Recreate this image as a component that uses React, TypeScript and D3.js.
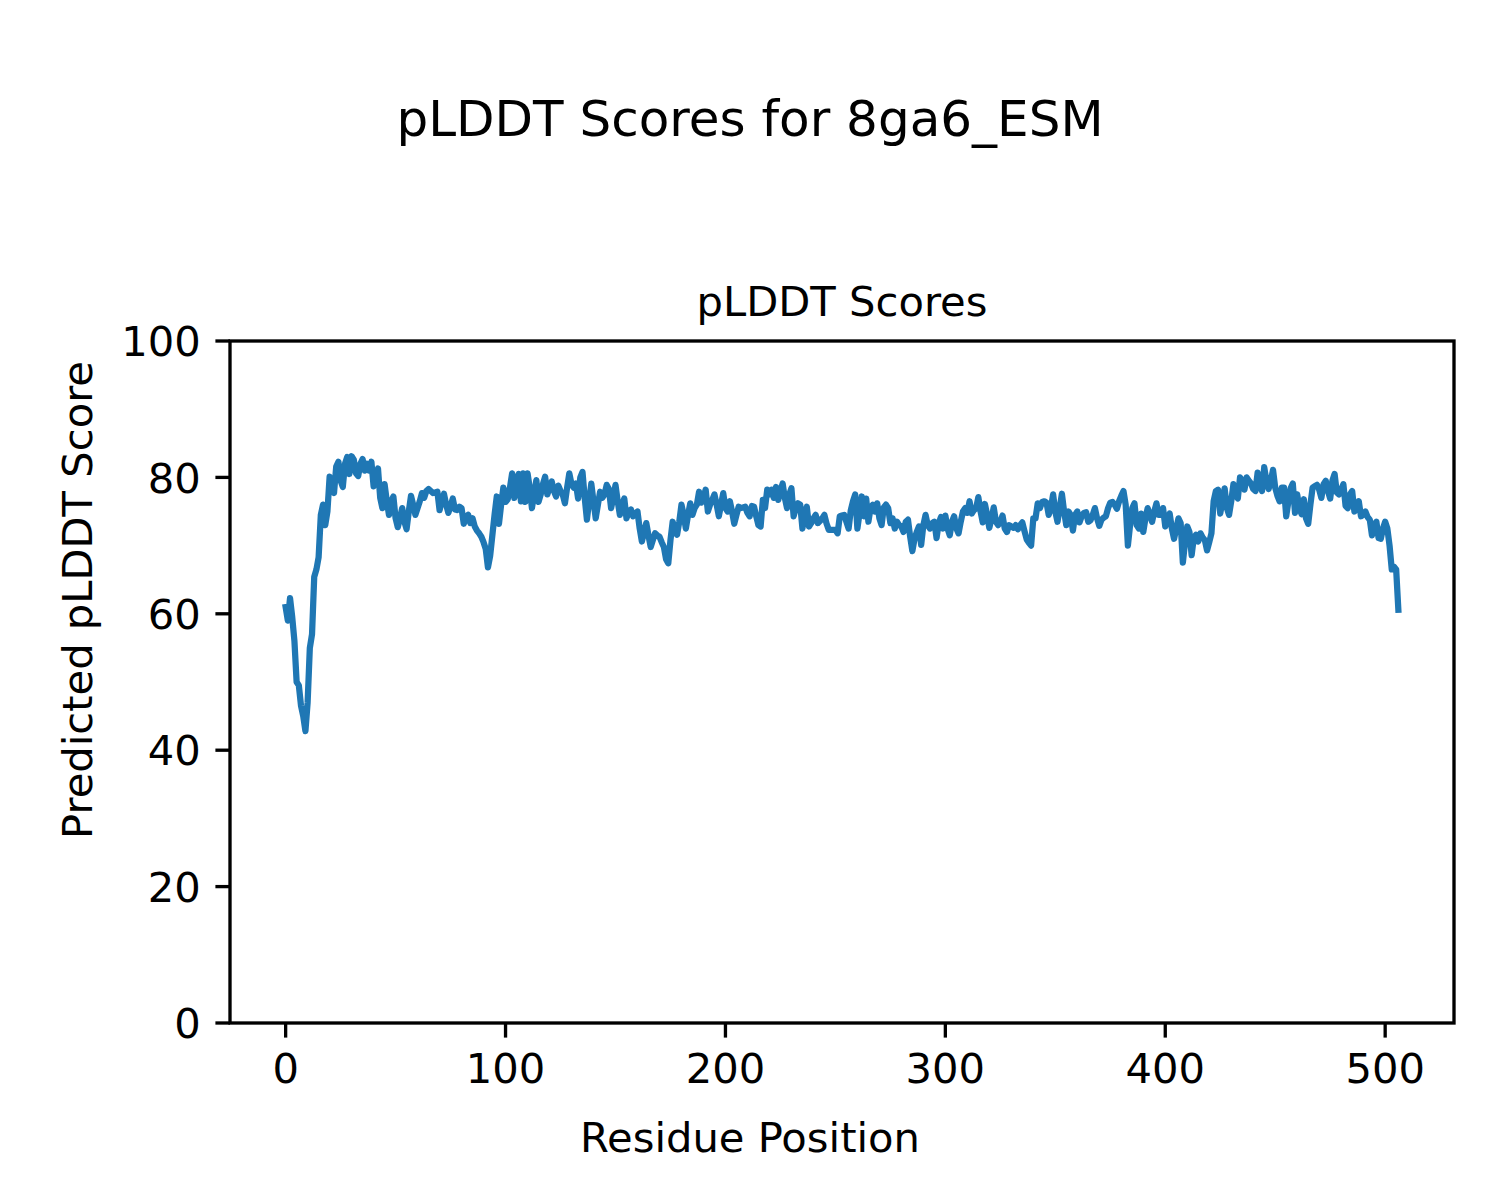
import React from "react";
import * as d3 from "d3";

const plddt: number[] = [
  61, 59, 62.3, 59.5, 56, 50, 49.5, 46.5, 45, 42.8, 47, 55, 57, 65.4, 66.5, 68.3, 74.5, 76, 73, 75,
  80.1, 79, 77.7, 81.6, 82.3, 79.5, 78.6, 82, 83, 80.5, 83.1, 82.6, 80.6, 80.2, 82, 82.7, 81, 82, 81,
  82.3, 78.7, 80, 81.3, 77, 75.5, 79, 76.5, 74.5, 76.5, 77.2, 74, 72.7, 74, 75.5, 73.5, 72.4, 75, 77.3, 76,
  74.5, 75.5, 76.5, 77.7, 77, 78, 78.3, 78, 77.7, 77.8, 77.9, 75.2, 76.5, 77.6, 76, 74.8, 75.8, 76.9, 75.3,
  75.2, 75.7, 75.5, 73.2,
  74.2, 74.5, 73.3, 74.0, 72.8, 72.2, 71.8, 71.3, 70.5, 69.5, 66.8, 68.5, 71.5, 74.5, 77.2, 73.2, 76, 78.5,
  76.4, 76.8, 78.5, 80.6, 77, 79.5, 80.5, 76.5, 80.6, 76.4, 80.6, 78.5, 75.5, 77.5, 79.6, 76.4, 77.5, 79,
  80.1, 77.5, 78.5, 79.4, 78, 77.2, 78.8, 78,
  77.5, 76.2, 78.5, 80.6, 79, 78.5, 79.1, 76.9, 80, 80.8, 77, 73.8, 76.5, 79.1, 76.5, 74.0, 76, 77.9, 77,
  77.5, 78.9, 78.3, 75.5, 77, 78.9, 76.5, 74.5, 76, 76.9, 74, 75, 75.3, 74.3, 74.7, 75, 72.5, 70.6, 72,
  73.3, 71.5, 69.8, 70.8, 71.8,
  71.5, 71.3, 70.5, 69.8, 68, 67.4, 70.8, 73.5, 72, 71.6, 73.5, 76, 74.5, 72.5, 74.5, 76.2, 74.5, 75.5, 76,
  77.9, 76.3, 77, 78.2, 75, 76, 76.7, 77.5, 76, 74.3, 76, 77.7, 75.5, 75.0, 76.5, 75, 73.2, 74.5, 75.7,
  75.5, 75.6, 75.7, 74.8, 74.3,
  75.8, 75.7, 74.3, 73, 72.8, 76.7, 75.5, 78.2, 77.5, 78.2, 77, 78.6, 76.7, 78, 79.1, 77, 75.5, 77.5, 78.4,
  74.3, 75.5, 76.2, 76, 72.5, 74.5, 75.7, 72.8, 73.3, 74, 74.5, 73.3, 73.6, 74, 74.5, 73.2, 72.3, 72.3,
  72.3, 72.3, 71.8, 74.3, 74.4, 74.5,
  73.5, 72.5, 75.2, 76.5, 77.5, 72.5, 74.8, 77.2, 74.3, 76.9, 73.5, 75.5, 76, 75, 76.2, 74, 73, 75.6, 76,
  75.5, 73.3, 74, 72.5, 73.5, 73, 72.8, 72, 73.5, 73.8, 71.3, 69.2, 71, 72, 72.8, 70.1, 73, 74.5, 73, 72.5,
  73.3, 73.5, 71.1, 73.3,
  74.2, 72.5, 74.4, 72.5, 71.5, 73.5, 74.3, 72.5, 71.8, 73.5, 75, 75.5, 74.8, 76.5, 74.7, 75.2, 75.5, 77.1,
  75, 73.4, 76.1, 74.5, 72.6, 74, 75.6, 73.5, 73, 73.5, 74.4, 72.5, 72, 73, 72.8, 72.6, 73, 72.4, 73, 73.4,
  72.1, 70.9, 70.4, 70, 74,
  74, 76.2, 75.5, 76.4, 76.5, 76.3, 74.5, 75.5, 77.5, 75, 73.5, 75.5, 77.6, 75, 73, 75, 74.5, 72.2, 74.5,
  75, 73.4, 74.3, 74.8, 74.9, 73.5, 73.7, 74.5, 75.5, 74, 72.9, 73.8, 74.1, 74.3, 75.5, 76.3, 76.4, 76,
  75.4, 76.5, 77.3, 78, 76, 70,
  73, 75.5, 76.2, 73, 72.5, 74.7, 72, 74, 75.5, 74.5, 73.5, 75, 76.2, 74.5, 74.5, 75.5, 72.8, 73.8, 74.7,
  72.5, 71, 72.5, 74, 73.3, 67.5, 70.5, 72.8, 72, 68.6, 71.2, 71.6, 70.6, 71.8, 71.2, 70.8, 69.3, 70.5,
  71.8, 76.5, 78, 78.2, 74.7, 76.5, 78.4,
  75.5, 74.5, 76.5, 79, 77.5, 76.9, 80, 79.5, 78.2, 80, 79.5, 79.1, 78.3, 78, 80.7, 79, 78, 81.5, 79.5,
  78.3, 79.5, 81.1, 78.5, 77.3, 76.5, 78.5, 78.5, 74.3, 76.5, 78.4, 79.1, 74.8, 77.5, 75.5, 74.6, 76.8,
  74, 73.2, 76, 78.5, 78.7, 78.9, 78.2,
  77, 79, 79.5, 78, 76.9, 79.5, 80.5, 77.8, 77.5, 78.2, 79, 75.8, 75.5, 77.5, 78, 75, 75.5, 76.5, 74.3,
  74.5, 75, 74.2, 73.8, 71.5, 73, 73.5, 71.1, 71, 72.5, 73.5, 72.5, 70, 66.5, 66.9, 66.5, 60.6,
];

const xTicks: number[] = [0, 100, 200, 300, 400, 500];
const yTicks: number[] = [0, 20, 40, 60, 80, 100];

const suptitle = "pLDDT Scores for 8ga6_ESM";
const axTitle = "pLDDT Scores";
const xLabel = "Residue Position";
const yLabel = "Predicted pLDDT Score";

const W = 1500;
const H = 1200;
const L = 230;
const R = 1454;
const T = 341;
const B = 1023;
const FONT = "'DejaVu Sans', sans-serif";

export default function App() {
  const n = plddt.length;
  const pad = (n - 1) * 0.05;
  const x = d3.scaleLinear().domain([-pad, n - 1 + pad]).range([L, R]);
  const y = d3.scaleLinear().domain([0, 100]).range([B, T]);
  const line = d3
    .line<number>()
    .x((_, i) => x(i))
    .y((d) => y(d));
  const tickLen = 14.6;
  const sw = 3.33;

  return (
    <div style={{ position: "absolute", left: 0, top: 0 }}>
      <svg width={W} height={H} viewBox={`0 0 ${W} ${H}`} style={{ display: "block", background: "#fff" }}>
        <rect x={0} y={0} width={W} height={H} fill="#fff" />
        <text x={750} y={136} textAnchor="middle" fontFamily={FONT} fontSize={50} fill="#000">
          {suptitle}
        </text>
        <text x={(L + R) / 2} y={316} textAnchor="middle" fontFamily={FONT} fontSize={41.67} fill="#000">
          {axTitle}
        </text>
        <path
          d={line(plddt) || ""}
          fill="none"
          stroke="#1f77b4"
          strokeWidth={6.25}
          strokeLinejoin="round"
          strokeLinecap="square"
        />
        <rect x={L} y={T} width={R - L} height={B - T} fill="none" stroke="#000" strokeWidth={sw} />
        {xTicks.map((t) => (
          <g key={"x" + t}>
            <line x1={x(t)} x2={x(t)} y1={B} y2={B + tickLen} stroke="#000" strokeWidth={sw} />
            <text x={x(t)} y={B + 2 * tickLen + 30.4} textAnchor="middle" fontFamily={FONT} fontSize={41.67} fill="#000">
              {t}
            </text>
          </g>
        ))}
        {yTicks.map((t) => (
          <g key={"y" + t}>
            <line x1={L - tickLen} x2={L} y1={y(t)} y2={y(t)} stroke="#000" strokeWidth={sw} />
            <text x={L - 2 * tickLen} y={y(t) + 15.2} textAnchor="end" fontFamily={FONT} fontSize={41.67} fill="#000">
              {t}
            </text>
          </g>
        ))}
        <text x={750} y={1152} textAnchor="middle" fontFamily={FONT} fontSize={41.67} fill="#000">
          {xLabel}
        </text>
        <text
          transform={`translate(92,600) rotate(-90)`}
          textAnchor="middle"
          fontFamily={FONT}
          fontSize={41.67}
          fill="#000"
        >
          {yLabel}
        </text>
      </svg>
    </div>
  );
}
